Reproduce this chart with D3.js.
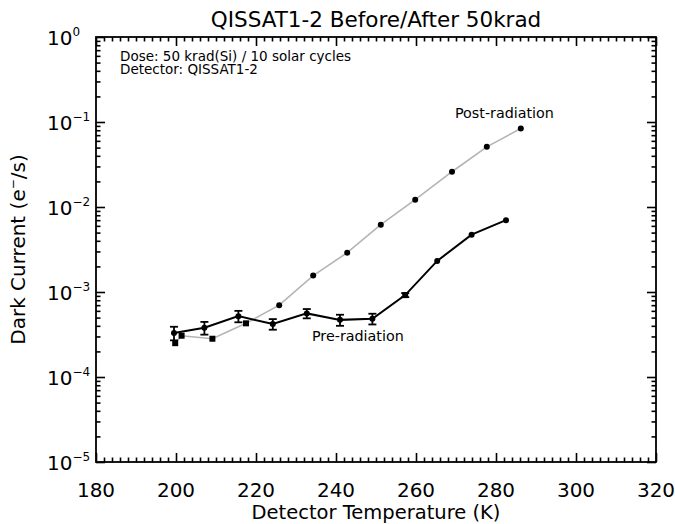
<!DOCTYPE html>
<html>
<head>
<meta charset="utf-8">
<script src="https://cdn.jsdelivr.net/npm/d3@7"></script>
<style>
  body { margin: 0; background: #fff; }
  text { font-family: "DejaVu Sans", "Liberation Sans", sans-serif; fill: #000; }
</style>
</head>
<body>
<svg id="chart" width="675" height="524"></svg>
<script>
// Pre-radiation measurements (with 1-sigma errors)
const preTemp    = [199.5, 207.1, 215.6, 224.2, 232.7, 241.0, 249.1, 257.3, 265.3, 273.9, 282.5];
const preCurrent = [3.3e-4, 3.8e-4, 5.2e-4, 4.2e-4, 5.6e-4, 4.7e-4, 4.85e-4, 9.2e-4, 2.32e-3, 4.73e-3, 7.0e-3];
const preError   = [6e-5, 6.5e-5, 8e-5, 6e-5, 7e-5, 7e-5, 7e-5, 5e-5, 0, 0, 0];
const preMarker  = ["circle", "circle", "circle", "circle", "circle", "circle", "circle", "square", "circle", "circle", "circle"];

// Post-radiation measurements
const postTemp    = [199.8, 201.4, 209.1, 217.5, 225.8, 234.3, 242.8, 251.2, 259.8, 269.0, 277.7, 286.2];
const postCurrent = [2.5e-4, 3.06e-4, 2.82e-4, 4.28e-4, 7.0e-4, 1.56e-3, 2.9e-3, 6.2e-3, 1.22e-2, 2.6e-2, 5.1e-2, 8.4e-2];
const postMarker  = ["square", "square", "square", "square", "circle", "circle", "circle", "circle", "circle", "circle", "circle", "circle"];

// Axis ticks
const xTicks = [180, 200, 220, 240, 260, 280, 300, 320];
const yTicks = [1, 1e-1, 1e-2, 1e-3, 1e-4, 1e-5];
const yTickExponents = ["0", "\u22121", "\u22122", "\u22123", "\u22124", "\u22125"];

const svg = d3.select("#chart");
const plotL = 96, plotR = 656, plotT = 37, plotB = 462;

const x = d3.scaleLinear().domain([180, 320]).range([plotL, plotR]);
const y = d3.scaleLog().domain([1e-5, 1]).range([plotB, plotT]);

// minor tick values
const xMinor = d3.range(180, 321, 2).filter(v => v % 20 !== 0);
const yMinor = [];
for (let e = -5; e < 0; e++) for (let k = 2; k <= 9; k++) yMinor.push(k * Math.pow(10, e));

function styleAxis(g) {
  g.select(".domain").remove();
  g.selectAll(".tick line").attr("stroke", "#000").attr("stroke-width", 1.6);
  g.selectAll(".tick text").remove();
}

// x ticks: bottom and top, pointing inward
svg.append("g").attr("transform", `translate(0,${plotB})`)
  .call(d3.axisBottom(x).tickValues(xTicks).tickSize(-9).tickFormat("")).call(styleAxis);
svg.append("g").attr("transform", `translate(0,${plotB})`)
  .call(d3.axisBottom(x).tickValues(xMinor).tickSize(-4.5).tickFormat("")).call(styleAxis);
svg.append("g").attr("transform", `translate(0,${plotT})`)
  .call(d3.axisTop(x).tickValues(xTicks).tickSize(-9).tickFormat("")).call(styleAxis);
svg.append("g").attr("transform", `translate(0,${plotT})`)
  .call(d3.axisTop(x).tickValues(xMinor).tickSize(-4.5).tickFormat("")).call(styleAxis);

// y ticks: left and right, pointing inward
svg.append("g").attr("transform", `translate(${plotL},0)`)
  .call(d3.axisLeft(y).tickValues(yTicks).tickSize(-9).tickFormat("")).call(styleAxis);
svg.append("g").attr("transform", `translate(${plotL},0)`)
  .call(d3.axisLeft(y).tickValues(yMinor).tickSize(-4.5).tickFormat("")).call(styleAxis);
svg.append("g").attr("transform", `translate(${plotR},0)`)
  .call(d3.axisRight(y).tickValues(yTicks).tickSize(-9).tickFormat("")).call(styleAxis);
svg.append("g").attr("transform", `translate(${plotR},0)`)
  .call(d3.axisRight(y).tickValues(yMinor).tickSize(-4.5).tickFormat("")).call(styleAxis);

// frame
svg.append("rect")
  .attr("x", plotL).attr("y", plotT)
  .attr("width", plotR - plotL).attr("height", plotB - plotT)
  .attr("fill", "none").attr("stroke", "#000").attr("stroke-width", 1.8);

// x tick labels
svg.append("g").selectAll("text").data(xTicks).join("text")
  .attr("x", d => x(d)).attr("y", plotB + 35)
  .attr("text-anchor", "middle").attr("font-size", 20)
  .text(d => d);

// y tick labels: 10 with superscript exponent
const yl = svg.append("g").selectAll("text").data(yTicks).join("text")
  .attr("x", 47).attr("y", d => y(d) + 7.5)
  .attr("font-size", 20);
yl.append("tspan").text("10");
yl.append("tspan").attr("dy", -9).attr("font-size", 12).text((d, i) => yTickExponents[i]);

// axis titles
svg.append("text")
  .attr("x", (plotL + plotR) / 2).attr("y", 519)
  .attr("text-anchor", "middle").attr("font-size", 19.5)
  .text("Detector Temperature (K)");

const yt = svg.append("text")
  .attr("transform", `translate(25,${(plotT + plotB) / 2}) rotate(-90)`)
  .attr("text-anchor", "middle").attr("font-size", 20);
yt.append("tspan").text("Dark Current (e");
yt.append("tspan").attr("dy", -8).attr("font-size", 12).text("\u2212");
yt.append("tspan").attr("dy", 8).text("/s)");

// chart title
svg.append("text")
  .attr("x", (plotL + plotR) / 2).attr("y", 27)
  .attr("text-anchor", "middle").attr("font-size", 21.5)
  .text("QISSAT1-2 Before/After 50krad");

// annotation
svg.append("text").attr("x", 120).attr("y", 60.5).attr("font-size", 13.5)
  .text("Dose: 50 krad(Si) / 10 solar cycles");
svg.append("text").attr("x", 120).attr("y", 73.5).attr("font-size", 13.5)
  .text("Detector: QISSAT1-2");

// series
const pre = preTemp.map((t, i) => ({ t, v: preCurrent[i], e: preError[i], m: preMarker[i] }));
const post = postTemp.map((t, i) => ({ t, v: postCurrent[i], m: postMarker[i] }));

const line = d3.line().x(d => x(d.t)).y(d => y(d.v));

svg.append("path").datum(post)
  .attr("d", line).attr("fill", "none")
  .attr("stroke", "#b4b4b4").attr("stroke-width", 1.6);

function drawMarkers(data) {
  const g = svg.append("g");
  g.selectAll("circle").data(data.filter(d => d.m === "circle")).join("circle")
    .attr("cx", d => x(d.t)).attr("cy", d => y(d.v)).attr("r", 3).attr("fill", "#000");
  g.selectAll("rect").data(data.filter(d => d.m === "square")).join("rect")
    .attr("x", d => x(d.t) - 3).attr("y", d => y(d.v) - 3)
    .attr("width", 6).attr("height", 6).attr("fill", "#000");
}
drawMarkers(post);

svg.append("path").datum(pre)
  .attr("d", line).attr("fill", "none")
  .attr("stroke", "#000").attr("stroke-width", 2);

// error bars
const eb = svg.append("g").attr("stroke", "#000").attr("stroke-width", 1.8);
pre.filter(d => d.e > 0).forEach(d => {
  const cx = x(d.t), y1 = y(d.v + d.e), y2 = y(d.v - d.e);
  eb.append("line").attr("x1", cx).attr("x2", cx).attr("y1", y1).attr("y2", y2);
  eb.append("line").attr("x1", cx - 4).attr("x2", cx + 4).attr("y1", y1).attr("y2", y1);
  eb.append("line").attr("x1", cx - 4).attr("x2", cx + 4).attr("y1", y2).attr("y2", y2);
});
drawMarkers(pre);

// series labels
svg.append("text").attr("x", 455).attr("y", 118).attr("font-size", 14.3).text("Post-radiation");
svg.append("text").attr("x", 312).attr("y", 341).attr("font-size", 14.3).text("Pre-radiation");
</script>
</body>
</html>
